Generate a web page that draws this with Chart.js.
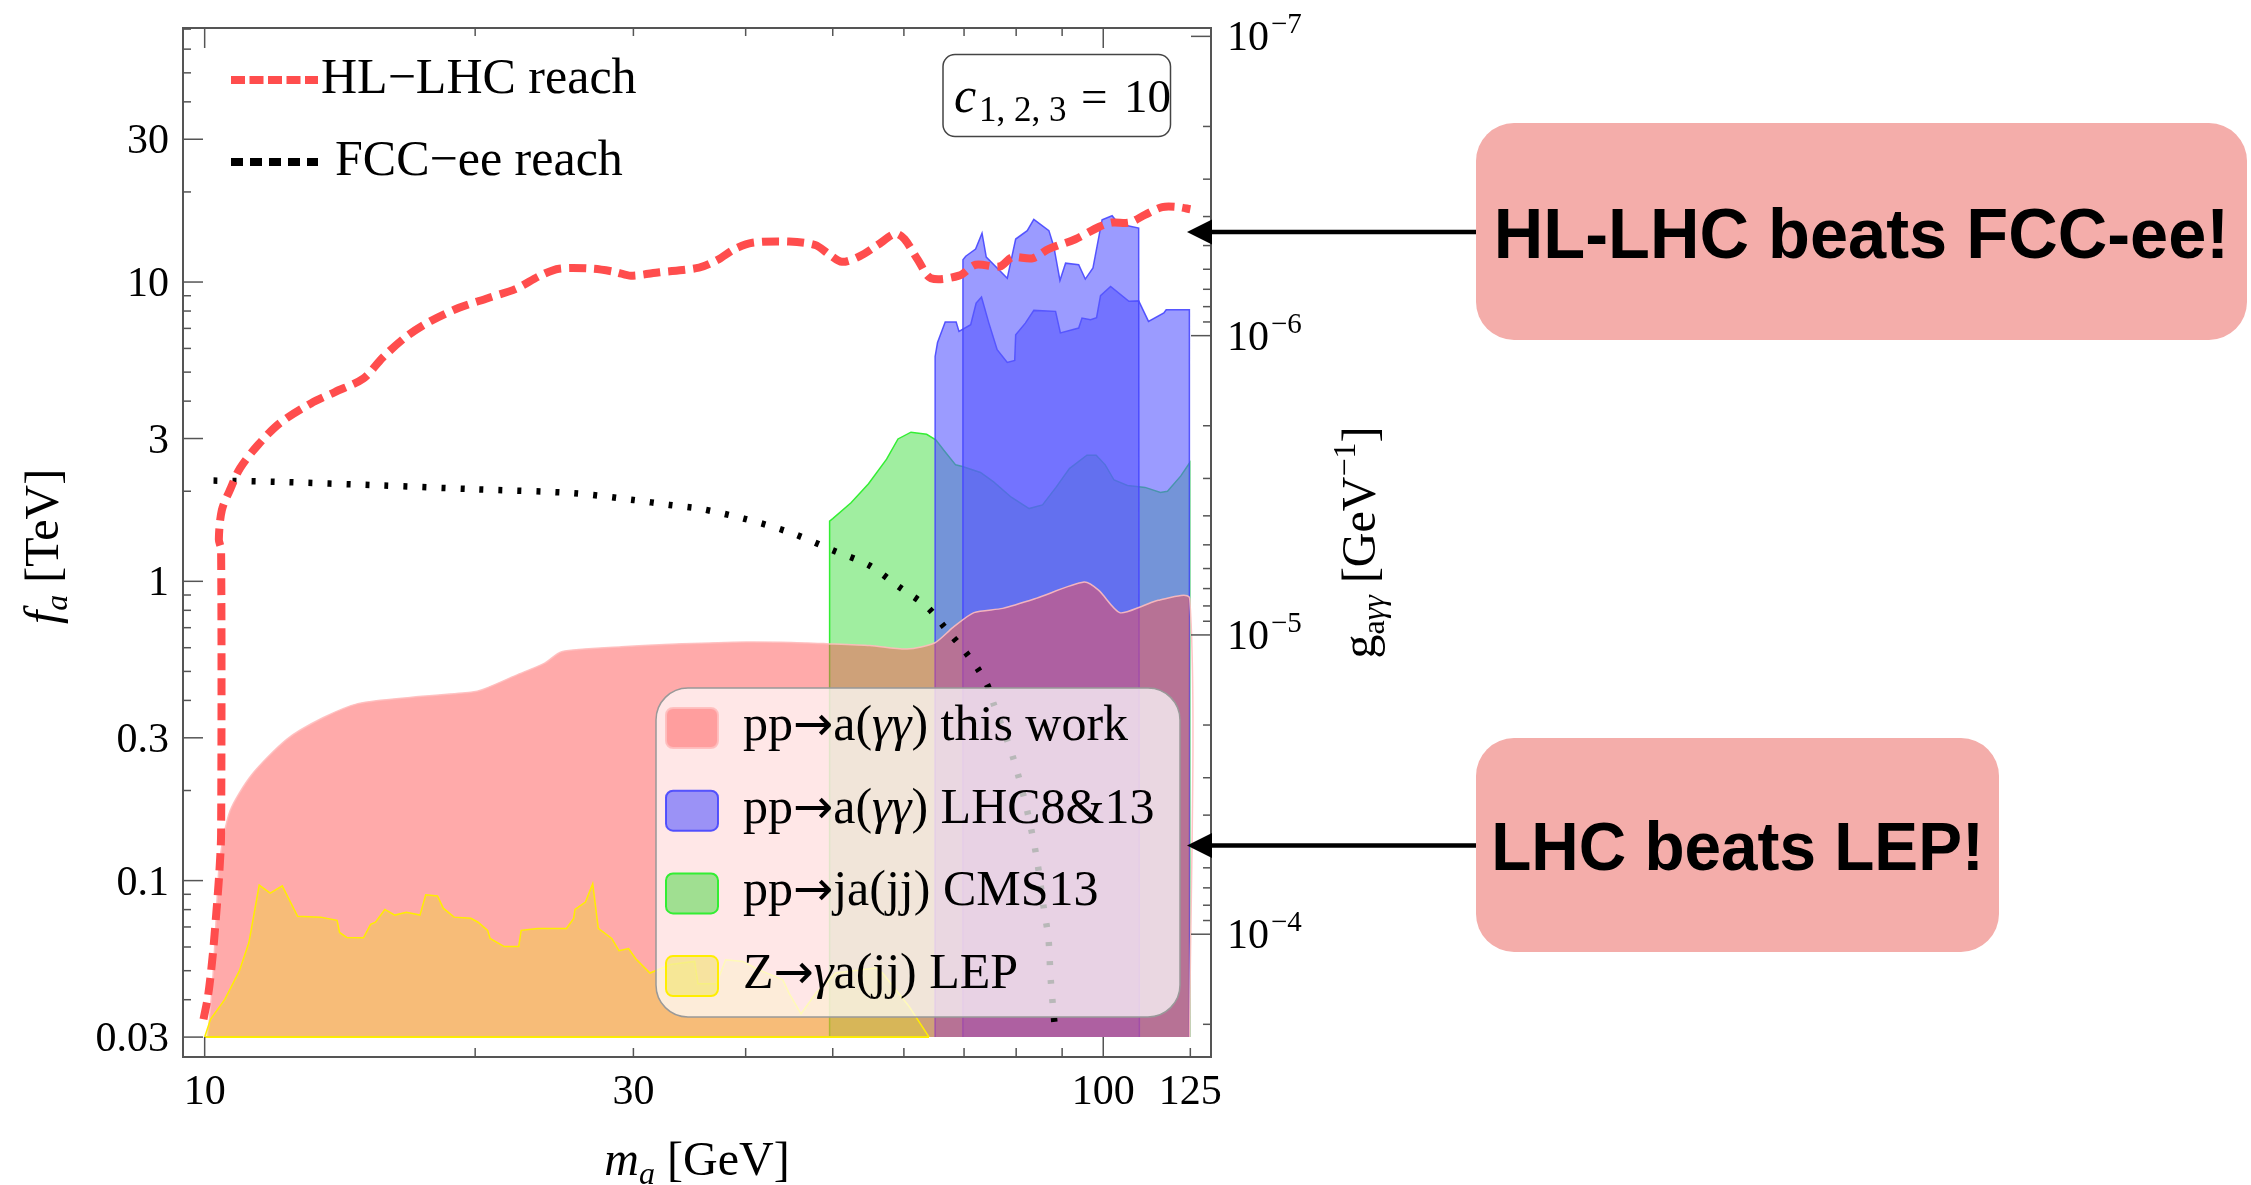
<!DOCTYPE html>
<html>
<head>
<meta charset="utf-8">
<title>ALP reach: f_a vs m_a</title>
<script src="https://cdn.jsdelivr.net/npm/chart.js@4.4.1/dist/chart.umd.min.js"></script>
<style>
  html, body { margin: 0; padding: 0; background: #fff; overflow: hidden; }
  canvas { display: block; }
</style>
</head>
<body>
<canvas id="alpChart" width="2251" height="1185"></canvas>
<script>
// m_a in GeV, f_a in TeV
const hlLhcReach = [
  [9.97, 0.0344], [10.09, 0.0414], [10.21, 0.0565], [10.30, 0.0772], [10.38, 0.105], [10.43, 0.144],
  [10.43, 1.28], [10.37, 1.38], [10.45, 1.73], [10.67, 2.02], [10.95, 2.39], [11.47, 2.86], [12.13, 3.38],
  [13.13, 3.93], [13.96, 4.29], [15.02, 4.76], [15.78, 5.59], [16.77, 6.58], [17.83, 7.40], [19.19, 8.20],
  [20.65, 8.83], [22.22, 9.50], [23.62, 10.5], [24.8, 11.08], [27.03, 11.08], [28.73, 10.78], [29.8, 10.5],
  [32.08, 10.78], [35.5, 11.17], [37.2, 11.85], [38.9, 12.9], [40.7, 13.53], [44.7, 13.65], [47.8, 13.3],
  [49.5, 12.39], [51.2, 11.68], [53.6, 12.2], [56.1, 13.3], [58.7, 14.5], [60.1, 13.9], [62.2, 11.85],
  [64.3, 10.3], [69.1, 10.5], [72.1, 11.42], [76.7, 11.27], [79.2, 12.1], [83.4, 12.0], [87.0, 12.9],
  [93.1, 13.9], [99.0, 15.3], [102.3, 15.8], [106.9, 15.8], [111.4, 16.8], [116.3, 17.8], [121.3, 17.8], [125.0, 17.5]
];

const fccReach = [
  [10.23, 2.17], [12, 2.15], [15.78, 2.09], [20, 2.03], [25.74, 1.97], [30, 1.87], [32.9, 1.80], [35.5, 1.75],
  [39.8, 1.62], [44.7, 1.46], [50, 1.27], [54.9, 1.13], [59.1, 0.963], [63.6, 0.824], [66.8, 0.694],
  [70.1, 0.585], [72.8, 0.501], [74.5, 0.442], [75.5, 0.39], [79.3, 0.260], [82.2, 0.1736], [84.3, 0.1195],
  [85.8, 0.0822], [86.9, 0.064], [87.4, 0.0469], [88.5, 0.0303]
];

const thisWork = [
  [10.08, 0.03], [10.2, 0.045], [10.28, 0.0668], [10.39, 0.116], [10.67, 0.1707], [11.27, 0.225],
  [12.34, 0.2966], [13.54, 0.35], [14.85, 0.391], [17, 0.41], [19.78, 0.426], [20.4, 0.435], [22.2, 0.485],
  [23.9, 0.533], [24.96, 0.582], [29.1, 0.604], [34, 0.618], [40, 0.627], [45, 0.625], [49.2, 0.619],
  [55, 0.61], [60.5, 0.594], [64.9, 0.622], [68, 0.70], [71.8, 0.786], [77.3, 0.812], [84.2, 0.877],
  [95.2, 0.994], [98.8, 0.934], [104.3, 0.786], [110.3, 0.824], [115.1, 0.864], [124.8, 0.877], [124.8, 0.03]
];

// LHC 8 & 13 TeV diphoton limits, two overlapping searches
const lhcDiphotonWide = [
  [65.0, 0.03], [65.0, 5.64], [65.4, 6.28], [66.7, 7.35], [68.6, 7.35], [69.1, 6.84], [71.2, 7.20],
  [72.2, 8.51], [73.2, 8.91], [74.6, 7.29], [76.2, 5.94], [78.2, 5.39], [79.7, 5.47], [79.9, 6.67],
  [81.9, 7.29], [83.7, 8.04], [88.5, 7.98], [89.6, 6.76], [93.9, 7.02], [94.7, 7.58], [96.8, 7.48],
  [98.3, 7.6], [99.3, 9.0], [101.9, 9.67], [106.8, 8.62], [109.5, 8.65], [112.3, 7.39], [116.8, 7.88],
  [117.5, 8.08], [124.7, 8.08], [124.7, 0.03]
];
const lhcDiphotonNarrow = [
  [69.8, 0.03], [69.8, 11.87], [70.3, 12.2], [72.1, 12.89], [73.3, 14.57], [74.1, 12.12], [78.2, 10.3],
  [79.9, 13.92], [82.3, 14.85], [83.7, 16.2], [87.0, 14.85], [88.1, 13.15], [89.5, 10.12], [90.8, 11.56],
  [93.9, 11.42], [95.5, 10.23], [97.4, 11.14], [99.7, 16.15], [102.3, 16.65], [104.0, 15.65],
  [109.5, 15.14], [109.7, 0.03]
];

const cms13Dijet = [
  [49.6, 0.03], [49.6, 1.59], [50.0, 1.62], [52.4, 1.83], [54.8, 2.12], [57.4, 2.56], [59.1, 2.99],
  [61.1, 3.15], [63.6, 3.10], [65.1, 2.97], [66.6, 2.72], [68.5, 2.45], [69.7, 2.42], [73.0, 2.31],
  [75.5, 2.15], [79.0, 1.91], [82.7, 1.75], [85.6, 1.80], [88.6, 2.06], [91.7, 2.38], [95.9, 2.64],
  [98.2, 2.64], [100.5, 2.45], [102.8, 2.18], [106.4, 2.09], [111.3, 2.06], [115.8, 1.98], [117.9, 2.0],
  [122.0, 2.25], [124.8, 2.49], [124.8, 0.03]
];

const lepZ = [
  [10.0, 0.03], [10.15, 0.0344], [10.53, 0.0401], [10.93, 0.0499], [11.2, 0.0621], [11.5, 0.0966],
  [11.83, 0.0908], [12.2, 0.096], [12.69, 0.076], [13.46, 0.0755], [14.04, 0.0737], [14.13, 0.0671],
  [14.39, 0.0646], [15.02, 0.0644], [15.30, 0.0714], [15.49, 0.0726], [15.87, 0.0801], [16.28, 0.0767],
  [16.77, 0.0784], [17.36, 0.0767], [17.62, 0.0897], [18.16, 0.0888], [18.43, 0.0809], [18.95, 0.0755],
  [19.78, 0.0748], [20.15, 0.0726], [20.65, 0.0682], [20.78, 0.0641], [21.55, 0.0602], [22.36, 0.0602],
  [22.5, 0.0682], [23.48, 0.0692], [25.27, 0.0692], [25.74, 0.0748], [25.83, 0.0801], [26.53, 0.0848],
  [27.03, 0.0976], [27.42, 0.0692], [28.38, 0.0641], [28.91, 0.0583], [29.63, 0.0593], [30.18, 0.0548],
  [31.3, 0.0491], [33.0, 0.0524], [35.1, 0.0537], [35.4, 0.0452], [37.1, 0.0452], [38.0, 0.0544],
  [39.7, 0.0537], [41.4, 0.0503], [44.0, 0.0466], [44.7, 0.0421], [46.1, 0.0359], [47.9, 0.0421],
  [50.4, 0.0491], [55.8, 0.051], [56.8, 0.0491], [60.8, 0.038], [64.0, 0.03]
];

const FLOOR = 0.03;           // regions are filled down to f_a = 30 GeV
const massRange = [9.46, 131.8];
const faRange = [0.02574, 70.6];
const gTimesFa = 6.62e-6;     // g_ayy [GeV^-1] * f_a [TeV] for c = 10

const massTicks = [10, 30, 100, 125];
const massMinor = [20, 30, 40, 50, 60, 70, 80, 90];
const faTicks = [0.03, 0.1, 0.3, 1, 3, 10, 30];
const gTicks = [1e-7, 1e-6, 1e-5, 1e-4];

const annotations = [
  { text: 'HL-LHC beats FCC-ee!', fa: 14.7, box: [1476, 123, 771, 217], size: 71 },
  { text: 'LHC beats LEP!', fa: 0.131, box: [1476, 738, 523, 214], size: 68 }
];

const SERIF = '"Liberation Serif", "Times New Roman", serif';
const SANS = '"Liberation Sans", Arial, Helvetica, sans-serif';
const serif = (size, italic) => (italic ? 'italic ' : '') + size + 'px ' + SERIF;
const toXY = pts => pts.map(([x, y]) => ({ x, y }));

const RED_FILL = 'rgba(255,80,80,0.486)';
const BLUE_FILL = 'rgba(88,88,255,0.6)';
const GREEN_FILL = 'rgba(18,212,18,0.4)';
const YELLOW_FILL = 'rgba(231,221,27,0.35)';

function region(label, pts, fill, edge) {
  return {
    label, data: toXY(pts), backgroundColor: fill, borderColor: edge, borderWidth: 1.5,
    fill: { value: FLOOR }, tension: 0, pointRadius: 0
  };
}

const datasets = [
  { label: 'HL−LHC reach', data: toXY(hlLhcReach), borderColor: '#ff4d4d', borderWidth: 8,
    borderDash: [17, 8], fill: false, tension: 0.3, pointRadius: 0 },
  { label: 'FCC−ee reach', data: toXY(fccReach), borderColor: '#000', borderWidth: 6.5,
    borderDash: [4, 15], fill: false, tension: 0.3, pointRadius: 0 },
  region('Z→γa(jj) LEP', lepZ, YELLOW_FILL, '#ffee00'),
  { label: '', data: toXY([[lepZ[0][0], FLOOR], [lepZ[lepZ.length - 1][0], FLOOR]]),
    borderColor: '#ffee00', borderWidth: 2, fill: false, pointRadius: 0 },
  { ...region('pp→a(γγ) this work', thisWork, RED_FILL, 'rgba(255,190,190,0.9)'), tension: 0.25 },
  region('pp→a(γγ) LHC8&13', lhcDiphotonNarrow, BLUE_FILL, 'rgba(70,70,255,0.9)'),
  region('pp→a(γγ) LHC8&13', lhcDiphotonWide, BLUE_FILL, 'rgba(70,70,255,0.9)'),
  region('pp→ja(jj) CMS13', cms13Dijet, GREEN_FILL, '#33ee33')
];
const lineLegend = [0, 1];
const regionLegend = [4, 6, 7, 2];

function roundRect(ctx, x, y, w, h, r) {
  ctx.beginPath();
  ctx.moveTo(x + r, y);
  ctx.arcTo(x + w, y, x + w, y + h, r);
  ctx.arcTo(x + w, y + h, x, y + h, r);
  ctx.arcTo(x, y + h, x, y, r);
  ctx.arcTo(x, y, x + w, y, r);
  ctx.closePath();
}

// draws a list of text pieces one after the other
function runs(ctx, parts, x, y, align) {
  let w = 0;
  for (const p of parts) { ctx.font = p.font; w += ctx.measureText(p.t).width; }
  let cx = align === 'center' ? x - w / 2 : x;
  for (const p of parts) {
    ctx.font = p.font;
    ctx.fillText(p.t, cx, y + (p.dy || 0));
    cx += ctx.measureText(p.t).width;
  }
}

// gamma in italics, the arrow from a font that has a long one, the rest upright
function labelParts(str, size) {
  return str.split(/(γ+|→)/).filter(s => s).map(s => ({
    t: s,
    font: s === '→' ? (size - 2) + 'px "DejaVu Sans", sans-serif' : serif(size, s[0] === 'γ')
  }));
}

const decorations = {
  id: 'decorations',
  afterDatasetsDraw(chart) {
    const ctx = chart.ctx;
    const { left, right, top, bottom } = chart.chartArea;
    const xs = chart.scales.x, ys = chart.scales.y, gs = chart.scales.g;
    ctx.save();

    // frame
    ctx.strokeStyle = '#555';
    ctx.lineWidth = 2;
    ctx.strokeRect(left, top, right - left, bottom - top);

    // inward ticks
    ctx.lineWidth = 1.5;
    const seg = (x0, y0, x1, y1) => { ctx.beginPath(); ctx.moveTo(x0, y0); ctx.lineTo(x1, y1); ctx.stroke(); };
    for (const m of [10, 100]) {
      const px = xs.getPixelForValue(m);
      seg(px, bottom, px, bottom - 20); seg(px, top, px, top + 20);
    }
    for (const m of massMinor) {
      const px = xs.getPixelForValue(m);
      seg(px, bottom, px, bottom - 9); seg(px, top, px, top + 8);
    }
    const p125 = xs.getPixelForValue(125);
    seg(p125, bottom, p125, bottom - 9);

    for (const d of [0.01, 0.1, 1, 10]) {
      for (let k = 1; k <= 9; k++) {
        const v = k * d;
        if (v < faRange[0] || v > faRange[1]) continue;
        const major = faTicks.some(t => Math.abs(t / v - 1) < 1e-6);
        const py = ys.getPixelForValue(v);
        seg(left, py, left + (major ? 20 : 8), py);
      }
    }
    const gLo = gTimesFa / faRange[1], gHi = gTimesFa / faRange[0];
    for (const d of [1e-8, 1e-7, 1e-6, 1e-5, 1e-4]) {
      for (let k = 1; k <= 9; k++) {
        const v = k * d;
        if (v < gLo || v > gHi) continue;
        const py = gs.getPixelForValue(v);
        seg(right, py, right - (k === 1 ? 20 : 8), py);
      }
    }

    // tick labels
    ctx.fillStyle = '#000';
    ctx.textBaseline = 'alphabetic';
    ctx.font = serif(42);
    ctx.textAlign = 'right';
    for (const v of faTicks) ctx.fillText(String(v), left - 14, ys.getPixelForValue(v) + 14);
    ctx.textAlign = 'center';
    for (const m of massTicks) ctx.fillText(String(m), xs.getPixelForValue(m), 1104);
    ctx.textAlign = 'left';
    for (const g of gTicks) {
      const py = gs.getPixelForValue(g);
      ctx.font = serif(42);
      ctx.fillText('10', 1227, py + 14);
      const w = ctx.measureText('10').width;
      ctx.font = serif(29);
      ctx.fillText('−' + Math.round(-Math.log10(g)), 1227 + w + 2, py - 3);
    }

    // axis titles
    runs(ctx, [{ t: 'm', font: serif(48, true) }, { t: 'a', font: serif(32, true), dy: 9 },
      { t: ' [GeV]', font: serif(48) }], (left + right) / 2, 1175, 'center');
    ctx.save();
    ctx.translate(58, (top + bottom) / 2 + 4);
    ctx.rotate(-Math.PI / 2);
    runs(ctx, [{ t: 'f', font: serif(48, true) }, { t: 'a', font: serif(32, true), dy: 9 },
      { t: ' [TeV]', font: serif(48) }], 0, 0, 'center');
    ctx.restore();
    ctx.save();
    ctx.translate(1375, (top + bottom) / 2);
    ctx.rotate(-Math.PI / 2);
    runs(ctx, [{ t: 'g', font: serif(48) }, { t: 'a', font: serif(32), dy: 9 },
      { t: 'γγ', font: serif(32, true), dy: 9 }, { t: ' [GeV', font: serif(48) },
      { t: '−1', font: serif(32), dy: -20 }, { t: ']', font: serif(48) }], 0, 0, 'center');
    ctx.restore();

    // legend for the reach curves
    const lineRows = [{ y: 80, tx: 321, ty: 93, dash: [14, 4.5] }, { y: 162, tx: 335, ty: 175, dash: [12, 7] }];
    lineLegend.forEach((i, r) => {
      const ds = datasets[i], row = lineRows[r];
      ctx.strokeStyle = ds.borderColor;
      ctx.lineWidth = 8;
      ctx.setLineDash(row.dash);
      seg(231, row.y, 318, row.y);
      ctx.setLineDash([]);
      ctx.font = serif(50);
      ctx.fillText(ds.label, row.tx, row.ty);
    });

    // coupling box
    roundRect(ctx, 943, 54.5, 227.5, 82, 12);
    ctx.fillStyle = '#fff';
    ctx.fill();
    ctx.strokeStyle = '#444';
    ctx.lineWidth = 1.5;
    ctx.stroke();
    ctx.fillStyle = '#000';
    ctx.font = serif(50, true); ctx.fillText('c', 954, 111.7);
    ctx.font = serif(35); ctx.fillText('1, 2, 3', 979, 120.7);
    ctx.font = serif(47); ctx.fillText('=', 1081, 111.7); ctx.fillText('10', 1124, 111.7);

    // legend for the excluded regions
    roundRect(ctx, 656, 688, 524, 329, 32);
    ctx.fillStyle = 'rgba(255,255,255,0.72)';
    ctx.fill();
    ctx.strokeStyle = '#999';
    ctx.lineWidth = 1.5;
    ctx.stroke();
    regionLegend.forEach((i, r) => {
      const ds = datasets[i];
      const cy = 728 + r * 82.7;
      roundRect(ctx, 666, cy - 20, 52, 40, 7);
      ctx.fillStyle = ds.backgroundColor;
      ctx.fill();
      ctx.strokeStyle = ds.borderColor;
      ctx.lineWidth = 2;
      ctx.stroke();
      ctx.fillStyle = '#000';
      runs(ctx, labelParts(ds.label, 50), 743, cy + 12);
    });

    // call-out boxes with arrows to the right axis
    for (const a of annotations) {
      const [bx, by, bw, bh] = a.box;
      const ay = ys.getPixelForValue(a.fa);
      ctx.fillStyle = '#f4adaa';
      roundRect(ctx, bx, by, bw, bh, 38);
      ctx.fill();
      ctx.strokeStyle = '#000';
      ctx.lineWidth = 4.5;
      seg(bx, ay, right + 1, ay);
      ctx.fillStyle = '#000';
      ctx.beginPath();
      ctx.moveTo(right - 24, ay);
      ctx.lineTo(right + 1, ay - 12.5);
      ctx.lineTo(right + 1, ay + 12.5);
      ctx.closePath();
      ctx.fill();
      ctx.save();
      ctx.translate(bx + bw / 2, ay + a.size * 0.36);
      ctx.scale(0.966, 1);
      ctx.font = 'bold ' + a.size + 'px ' + SANS;
      ctx.textAlign = 'center';
      ctx.fillText(a.text, 0, 0);
      ctx.restore();
    }
    ctx.restore();
  }
};

const hidden = { ticks: { display: false }, grid: { display: false }, border: { display: false } };

new Chart(document.getElementById('alpChart'), {
  type: 'line',
  data: { datasets },
  options: {
    responsive: false,
    devicePixelRatio: 1,
    animation: false,
    events: [],
    layout: { padding: { top: 28, right: 1000, bottom: 0, left: 0 } },
    plugins: { legend: { display: false }, tooltip: { enabled: false } },
    scales: {
      x: { type: 'logarithmic', min: massRange[0], max: massRange[1], ...hidden,
        afterFit: s => { s.height = 128; } },
      y: { type: 'logarithmic', position: 'left', min: faRange[0], max: faRange[1], ...hidden,
        afterFit: s => { s.width = 183; } },
      g: { type: 'logarithmic', position: 'right', reverse: true,
        min: gTimesFa / faRange[1], max: gTimesFa / faRange[0], ...hidden,
        afterFit: s => { s.width = 40; } }
    }
  },
  plugins: [decorations]
});
</script>
</body>
</html>
